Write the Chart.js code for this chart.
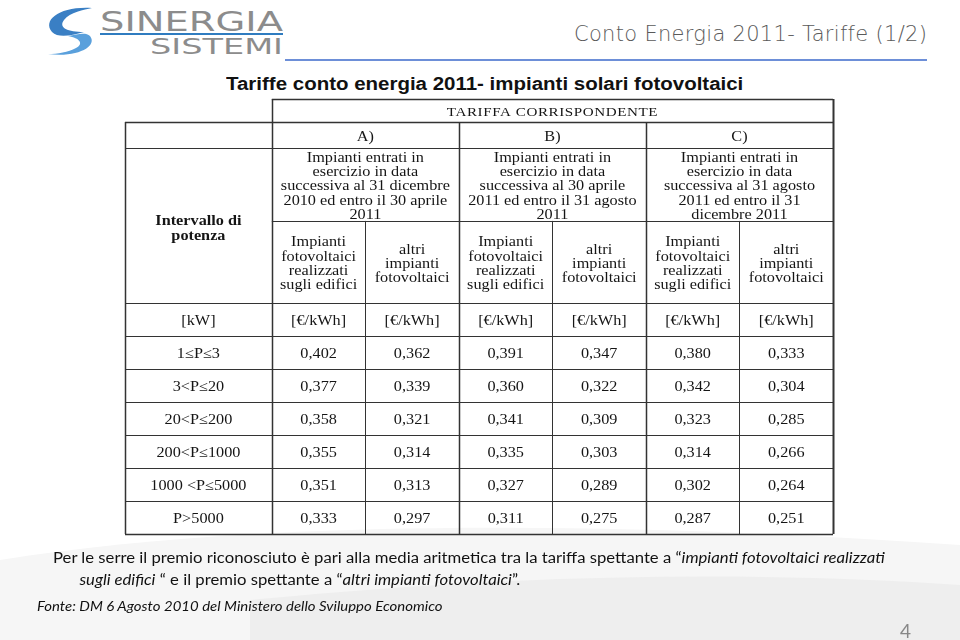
<!DOCTYPE html>
<html>
<head>
<meta charset="utf-8">
<script src="https://cdn.jsdelivr.net/npm/chart.js@4.4.1/dist/chart.umd.min.js"></script>
<style>
  html, body { margin: 0; padding: 0; background: #fff; }
  #page { position: relative; width: 960px; height: 640px; overflow: hidden; font-family: 'Lato', sans-serif; }
  #bg { position: absolute; left: 0; top: 0; }
  #chart { position: absolute; left: 0; top: 0; }
  .abs { position: absolute; white-space: nowrap; transform-origin: 0 0; }
  #title { left: 574px; top: 22px; font-family: 'DejaVu Sans', sans-serif; font-weight: 300; font-size: 21px; letter-spacing: 0.3px; color: #5a5a5a; }
  #rule { left: 285px; top: 59px; width: 642px; height: 2px; background: #6d8fd8; }
  #subtitle { left: 226px; top: 74px; font-family: 'Liberation Sans', sans-serif; font-weight: bold; font-size: 17.5px; color: #111; transform: scaleX(1.17); }
  #note { left: 53px; top: 547px; font-size: 14.5px; color: #111; line-height: 22px; transform: scaleX(1.15); }
  #note .l2 { padding-left: 23px; }
  #source { left: 37px; top: 598px; font-size: 13px; font-style: italic; color: #111; transform: scaleX(1.15); }
  #pagenum { left: 900px; top: 619px; font-size: 19px; color: #888; }
  #logo { left: 40px; top: 2px; }
</style>
</head>
<body>
<div id="page">
  <svg id="bg" width="960" height="640">
    <path d="M0 560 C 250 520, 600 520, 960 545 L 960 640 L 0 640 Z" fill="#f6f6f6"/>
    <path d="M250 600 C 500 575, 750 570, 960 585 L 960 640 L 250 640 Z" fill="#eeeeee"/>
  </svg>
  <svg id="logo" class="abs" width="250" height="60">
    <path d="M52 6 C 20 4, 2 18, 12 30 C 18 36, 30 34, 44 30 C 28 30, 18 26, 24 18 C 30 10, 44 8, 52 6 Z" fill="#3a7fc4"/>
    <path d="M8 52 C 38 56, 58 44, 50 34 C 46 30, 38 32, 28 34 C 40 36, 44 42, 36 46 C 28 50, 18 52, 8 52 Z" fill="#5aa0dc"/>
    <text x="60" y="29" font-family="DejaVu Sans" font-size="27" fill="#8c8c8c" textLength="183" lengthAdjust="spacingAndGlyphs">SINERGIA</text>
    <rect x="60" y="31" width="183" height="2" fill="#2f7cc0"/>
    <text x="110" y="52" font-family="DejaVu Sans" font-size="21" fill="#8c8c8c" textLength="133" lengthAdjust="spacingAndGlyphs">SISTEMI</text>
  </svg>
  <div id="title" class="abs">Conto Energia 2011- Tariffe (1/2)</div>
  <div id="rule" class="abs"></div>
  <div id="subtitle" class="abs">Tariffe conto energia 2011- impianti solari fotovoltaici</div>
  <canvas id="chart" width="960" height="640"></canvas>
  <div id="note" class="abs">Per le serre il premio riconosciuto è pari alla media aritmetica tra la tariffa spettante a “<i>impianti fotovoltaici realizzati</i><br><span class="l2"><i>sugli edifici</i> “ e il premio spettante a “<i>altri impianti fotovoltaici</i>”.</span></div>
  <div id="source" class="abs">Fonte: DM 6 Agosto 2010 del Ministero dello Sviluppo Economico</div>
  <div id="pagenum" class="abs">4</div>
</div>

<script>
// Table content
const tableTitle = 'TARIFFA CORRISPONDENTE';
const rowHeader = ['Intervallo di', 'potenza'];
const groups = ['A)', 'B)', 'C)'];
const groupPeriods = [
  ['Impianti entrati in', 'esercizio in data', 'successiva al 31 dicembre', '2010 ed entro il 30 aprile', '2011'],
  ['Impianti entrati in', 'esercizio in data', 'successiva al 30 aprile', '2011 ed entro il 31 agosto', '2011'],
  ['Impianti entrati in', 'esercizio in data', 'successiva al 31 agosto', '2011 ed entro il 31', 'dicembre 2011']
];
const subHeaders = [
  ['Impianti', 'fotovoltaici', 'realizzati', 'sugli edifici'],
  ['altri', 'impianti', 'fotovoltaici']
];
const unitBand = '[kW]';
const unitTariff = '[€/kWh]';
const bands = ['1≤P≤3', '3<P≤20', '20<P≤200', '200<P≤1000', '1000 <P≤5000', 'P>5000'];

// Tariffs [€/kWh]
const aEdifici = [0.402, 0.377, 0.358, 0.355, 0.351, 0.333];
const aAltri   = [0.362, 0.339, 0.321, 0.314, 0.313, 0.297];
const bEdifici = [0.391, 0.360, 0.341, 0.335, 0.327, 0.311];
const bAltri   = [0.347, 0.322, 0.309, 0.303, 0.289, 0.275];
const cEdifici = [0.380, 0.342, 0.323, 0.314, 0.302, 0.287];
const cAltri   = [0.333, 0.304, 0.285, 0.266, 0.264, 0.251];
const tariffColumns = [aEdifici, aAltri, bEdifici, bAltri, cEdifici, cAltri];

// Layout in scale units: header row heights, width of the band column
const headerRows = [0.7, 0.8, 2.2, 2.5, 1.0];
const bandColWidth = 1.57;

const headBottoms = headerRows.reduce((acc, h) => acc.concat((acc.length ? acc[acc.length - 1] : 0) + h), []);
const dataTop = headBottoms[headBottoms.length - 1];
const nCols = tariffColumns.length;
const yMax = dataTop + bands.length;

const fmt = v => v.toFixed(3).replace('.', ',');

const datasets = tariffColumns.map((col, c) => ({
  label: 'col' + c,
  data: col.map((v, i) => ({ x: c + 0.5, y: dataTop + i + 0.5, v: fmt(v) })),
  pointRadius: 0
}));
datasets.push({
  label: 'bands',
  data: bands.map((b, i) => ({ x: -bandColWidth / 2, y: dataTop + i + 0.5, v: b })),
  pointRadius: 0
});

const SERIF = "'Liberation Serif', 'Times New Roman', serif";
const STRETCH = 1.16; // the scanned table is wider than tall

const tablePlugin = {
  id: 'tablePlugin',
  afterDatasetsDraw(chart) {
    const { ctx } = chart;
    const xs = chart.scales.x, ys = chart.scales.y;
    const X = v => xs.getPixelForValue(v);
    const Y = v => ys.getPixelForValue(v);

    const hline = (y, x0, x1, w) => {
      ctx.lineWidth = w || 1;
      ctx.beginPath();
      ctx.moveTo(X(x0), Math.round(Y(y)) + 0.5);
      ctx.lineTo(X(x1), Math.round(Y(y)) + 0.5);
      ctx.stroke();
    };
    const vline = (x, y0, y1, w) => {
      ctx.lineWidth = w || 1;
      ctx.beginPath();
      ctx.moveTo(Math.round(X(x)) + 0.5, Y(y0));
      ctx.lineTo(Math.round(X(x)) + 0.5, Y(y1));
      ctx.stroke();
    };
    // glyphs sit a bit high with 'middle', so nudge down 2px
    const txt = (t, x, y) => {
      ctx.save();
      ctx.translate(x, y + 2);
      ctx.scale(STRETCH, 1);
      ctx.fillText(t, 0, 0);
      ctx.restore();
    };

    ctx.save();
    ctx.strokeStyle = '#333';

    // horizontal rules
    hline(0, 0, nCols, 1.5);
    hline(headBottoms[0], -bandColWidth, nCols, 1.5);
    hline(headBottoms[1], -bandColWidth, nCols);
    hline(headBottoms[2], 0, nCols);
    hline(headBottoms[3], -bandColWidth, nCols);
    for (let i = 0; i <= bands.length; i++) hline(dataTop + i, -bandColWidth, nCols, i === bands.length ? 1.5 : 1);

    // vertical rules
    vline(-bandColWidth, headBottoms[0], yMax, 1.5);
    vline(0, 0, yMax, 1.5);
    for (let g = 1; g < groups.length; g++) vline(g * 2, headBottoms[0], yMax, 1.5);
    vline(nCols, 0, yMax, 2);
    for (let c = 1; c < nCols; c += 2) vline(c, headBottoms[2], yMax);

    ctx.fillStyle = '#151515';
    ctx.textAlign = 'center';
    ctx.textBaseline = 'middle';

    ctx.font = '13px ' + SERIF;
    ctx.letterSpacing = '0.5px';
    txt(tableTitle, X(nCols / 2), Y(headBottoms[0] / 2));
    ctx.letterSpacing = '0px';

    ctx.font = '14px ' + SERIF;
    const lh = 14.2;
    groups.forEach((g, i) => {
      txt(g, X(i * 2 + 1), Y((headBottoms[0] + headBottoms[1]) / 2));
      const lines = groupPeriods[i];
      const cy = Y((headBottoms[1] + headBottoms[2]) / 2);
      lines.forEach((t, k) => txt(t, X(i * 2 + 1), cy + (k - (lines.length - 1) / 2) * lh));
      subHeaders.forEach((sh, s) => {
        const cy2 = Y((headBottoms[2] + headBottoms[3]) / 2);
        sh.forEach((t, k) => txt(t, X(i * 2 + s + 0.5), cy2 + (k - (sh.length - 1) / 2) * lh));
      });
    });

    // units row
    const uy = Y((headBottoms[3] + headBottoms[4]) / 2);
    txt(unitBand, X(-bandColWidth / 2), uy);
    for (let c = 0; c < nCols; c++) txt(unitTariff, X(c + 0.5), uy);

    // row header
    ctx.font = 'bold 14px ' + SERIF;
    const ry = Y((headBottoms[1] + headBottoms[3]) / 2) + 1;
    rowHeader.forEach((t, k) => txt(t, X(-bandColWidth / 2), ry + (k - 0.5) * 15));

    // cells from the datasets
    ctx.font = '14px ' + SERIF;
    chart.data.datasets.forEach((ds, di) => {
      const meta = chart.getDatasetMeta(di);
      meta.data.forEach((pt, i) => txt(ds.data[i].v, pt.x, pt.y));
    });
    ctx.restore();
  }
};

new Chart(document.getElementById('chart'), {
  type: 'scatter',
  data: { datasets },
  options: {
    responsive: false,
    animation: false,
    layout: { padding: { left: 125, right: 127, top: 99, bottom: 106 } },
    plugins: { legend: { display: false }, tooltip: { enabled: false } },
    scales: {
      x: { type: 'linear', min: -bandColWidth, max: nCols, display: false },
      y: { type: 'linear', min: 0, max: yMax, reverse: true, display: false }
    }
  },
  plugins: [tablePlugin]
});
</script>
</body>
</html>
